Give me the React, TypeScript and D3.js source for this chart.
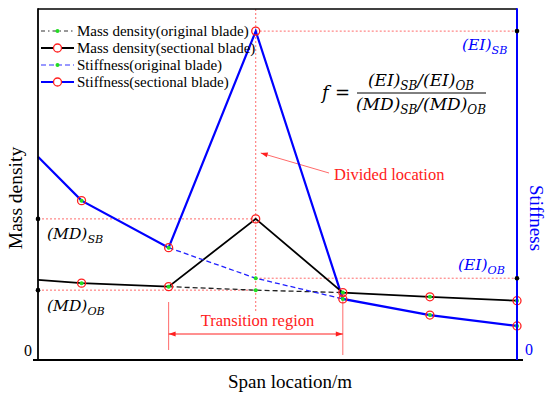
import React from 'react';
import * as d3 from 'd3';

// span positions (arbitrary units) of the sampled sections
const spanPos = [0, 0.5, 1.5, 2.5, 3.5, 4.5, 5.5];
// mass density
const massSectional = [2.28, 2.19, 2.09, 4.02, 1.92, 1.8, 1.69];
const massOriginal = [2.28, 2.19, 2.09, 1.99, 1.92, 1.8, 1.69];
// stiffness
const stiffSectional = [5.79, 4.54, 3.2, 9.37, 1.74, 1.28, 0.97];
const stiffOriginal = [5.79, 4.54, 3.2, 2.33, 1.74, 1.28, 0.97];
// reference values
const mdSB = 4.02;
const mdOB = 1.99;
const eiSB = 9.37;
const eiOB = 2.33;
const dividedAt = 2.5;
const transition = [1.5, 3.5];

const legendItems = [
  'Mass density(original blade)',
  'Mass density(sectional blade)',
  'Stiffness(original blade)',
  'Stiffness(sectional blade)',
];

const W = 550;
const H = 399;
const L = 38, R = 517, T = 9, B = 360;
const serif = 'Liberation Serif, serif';
const mathFont = 'DejaVu Serif, serif';
const red = '#ff2020';
const pink = '#ff6b6b';

const Sub: React.FC<{ main: string; sub: string; x: number; y: number; fill: string; size?: number }> = ({ main, sub, x, y, fill, size = 15.5 }) => (
  <text x={x} y={y} fill={fill} style={{ fontFamily: mathFont, fontStyle: 'italic', fontSize: size }}>
    {main}
    <tspan style={{ fontSize: size * 0.72 }} dy={4}>{sub}</tspan>
  </text>
);

export default function App() {
  const x = d3.scaleLinear().domain([0, 5.5]).range([L, R]);
  const yM = d3.scaleLinear().domain([0, 10]).range([B, T]);
  const yS = d3.scaleLinear().domain([0, 10]).range([B, T]);

  const lineM = d3.line<number>().x((_, i) => x(spanPos[i])).y((d) => yM(d));
  const lineS = d3.line<number>().x((_, i) => x(spanPos[i])).y((d) => yS(d));
  // original-blade dashed parts: only across the transition region
  const lineMo = d3.line<number>().x((_, i) => x(spanPos[i + 2])).y((d) => yM(d));
  const lineSo = d3.line<number>().x((_, i) => x(spanPos[i + 2])).y((d) => yS(d));

  const xd = x(dividedAt);
  const [t0, t1] = transition.map((v) => x(v));
  const idx = spanPos.map((_, i) => i).filter((i) => i > 0);

  const arrowY = 334;
  const txt = { fontFamily: serif };

  return (
    <svg width={W} height={H} style={{ position: 'fixed', left: 0, top: 0, background: '#fff' }}>
      <defs>
        <marker id="ah" viewBox="0 0 10 10" refX="10" refY="5" markerWidth="10" markerHeight="7" orient="auto-start-reverse" markerUnits="userSpaceOnUse">
          <path d="M0,1.5 L10,5 L0,8.5 Z" fill={red} />
        </marker>
      </defs>

      {/* reference lines */}
      <g stroke={pink} strokeWidth={1} strokeDasharray="2,2" fill="none">
        <line x1={xd} x2={xd} y1={T} y2={312} />
        <line x1={L} x2={xd} y1={yM(mdSB)} y2={yM(mdSB)} />
        <line x1={L} x2={xd} y1={yM(mdOB)} y2={yM(mdOB)} />
        <line x1={xd} x2={R} y1={yS(eiSB)} y2={yS(eiSB)} />
        <line x1={xd} x2={R} y1={yS(eiOB)} y2={yS(eiOB)} />
      </g>

      {/* transition region */}
      <g stroke={pink} strokeWidth={1}>
        <line x1={t0} x2={t0} y1={302} y2={350} />
        <line x1={t1} x2={t1} y1={299} y2={355} />
      </g>
      <line x1={t0} x2={t1} y1={arrowY} y2={arrowY} stroke={red} strokeWidth={1} markerStart="url(#ah)" markerEnd="url(#ah)" />
      <text x={257.5} y={326} fill={red} style={txt} fontSize={16.5} textAnchor="middle">Transition region</text>

      {/* divided location */}
      <line x1={329} y1={173} x2={xd + 5} y2={153} stroke={pink} strokeWidth={1} markerEnd="url(#ah)" />
      <text x={334} y={180} fill={red} style={txt} fontSize={16.5}>Divided location</text>

      {/* data lines */}
      <path d={lineS(stiffSectional) || ''} fill="none" stroke="#0000ff" strokeWidth={2.2} />
      <path d={lineM(massSectional) || ''} fill="none" stroke="#000" strokeWidth={1.8} />
      <path d={lineMo(massOriginal.slice(2, 5)) || ''} fill="none" stroke="#222" strokeWidth={1.3} strokeDasharray="5,3" />
      <path d={lineSo(stiffOriginal.slice(2, 5)) || ''} fill="none" stroke="#2020ff" strokeWidth={1.3} strokeDasharray="5,3" />

      {/* markers */}
      {idx.map((i) => (
        <g key={'m' + i} fill="none" stroke={red} strokeWidth={1.3}>
          <circle cx={x(spanPos[i])} cy={yM(massSectional[i])} r={4} />
          <circle cx={x(spanPos[i])} cy={yS(stiffSectional[i])} r={4} />
        </g>
      ))}
      {idx.map((i) => (
        <g key={'g' + i} fill="#22dd22">
          <circle cx={x(spanPos[i])} cy={yM(massOriginal[i])} r={2} />
          <circle cx={x(spanPos[i])} cy={yS(stiffOriginal[i])} r={2} />
        </g>
      ))}

      {/* axes */}
      <line x1={L} x2={R} y1={T} y2={T} stroke="#000" strokeWidth={1.6} />
      <line x1={33} x2={523} y1={B} y2={B} stroke="#000" strokeWidth={1.8} />
      <line x1={L} x2={L} y1={T - 0.8} y2={B} stroke="#000" strokeWidth={1.8} />
      <line x1={R} x2={R} y1={T - 0.8} y2={B} stroke="#0000ff" strokeWidth={2} />
      <circle cx={L} cy={yM(mdSB)} r={2.3} fill="#000" />
      <circle cx={L} cy={yM(mdOB)} r={2.3} fill="#000" />
      <circle cx={R} cy={yS(eiSB)} r={2.3} fill="#000" />
      <circle cx={R} cy={yS(eiOB)} r={2.3} fill="#000" />
      <text x={28} y={356} style={txt} fontSize={16} textAnchor="middle" fill="#000">0</text>
      <text x={529} y={355} style={txt} fontSize={16} textAnchor="middle" fill="#0000ff">0</text>

      {/* axis titles */}
      <text transform="translate(22,198) rotate(-90)" style={txt} fontSize={19.5} textAnchor="middle" fill="#000">Mass density</text>
      <text transform="translate(530,218) rotate(90)" style={txt} fontSize={19} textAnchor="middle" fill="#0000ff">Stiffness</text>
      <text x={290} y={388} style={txt} fontSize={19} textAnchor="middle" fill="#000">Span location/m</text>

      {/* value labels */}
      <Sub main="(MD)" sub="SB" x={47} y={239} fill="#000" />
      <Sub main="(MD)" sub="OB" x={47} y={311} fill="#000" />
      <Sub main="(EI)" sub="SB" x={462} y={50} fill="#0000ff" />
      <Sub main="(EI)" sub="OB" x={458} y={270} fill="#0000ff" />

      {/* formula */}
      <g style={{ fontFamily: mathFont, fontStyle: 'italic' }} fill="#000">
        <text x={322} y={99} style={{ fontSize: 18 }}>f</text>
        <text x={335} y={99} style={{ fontSize: 18, fontStyle: 'normal' }}>=</text>
        <text x={421} y={86} style={{ fontSize: 17 }} textAnchor="middle">
          (EI)<tspan style={{ fontSize: 12 }} dy={4}>SB</tspan><tspan dy={-4}>/(EI)</tspan><tspan style={{ fontSize: 12 }} dy={4}>OB</tspan>
        </text>
        <line x1={357} x2={486} y1={93} y2={93} stroke="#000" strokeWidth={1} />
        <text x={421} y={110} style={{ fontSize: 17 }} textAnchor="middle">
          (MD)<tspan style={{ fontSize: 12 }} dy={4}>SB</tspan><tspan dy={-4}>/(MD)</tspan><tspan style={{ fontSize: 12 }} dy={4}>OB</tspan>
        </text>
      </g>

      {/* legend */}
      {legendItems.map((label, i) => {
        const ly = 31 + i * 17;
        const isMass = i < 2;
        const isOrig = i % 2 === 0;
        const col = isMass ? (isOrig ? '#333' : '#000') : isOrig ? '#3333ff' : '#0000ff';
        return (
          <g key={label}>
            <line x1={41} x2={74} y1={ly} y2={ly} stroke={col} strokeWidth={isOrig ? 1.2 : 1.8}
              strokeDasharray={isOrig ? (isMass ? '4,3,1.5,3' : '5,3') : undefined} />
            {isOrig ? (
              <circle cx={57.5} cy={ly} r={2} fill="#22dd22" />
            ) : (
              <circle cx={57.5} cy={ly} r={4} fill="#fff" stroke={red} strokeWidth={1.3} />
            )}
            <text x={77} y={ly + 5} style={txt} fontSize={15} fill="#000">{label}</text>
          </g>
        );
      })}
    </svg>
  );
}
